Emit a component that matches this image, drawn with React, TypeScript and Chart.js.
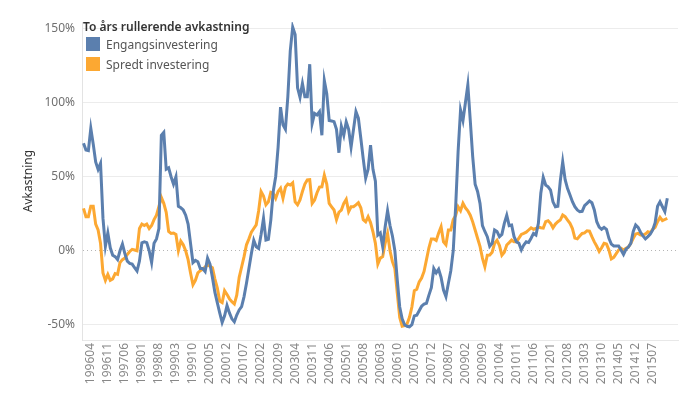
import React, { useEffect, useRef } from "react";
import { Chart, registerables } from "chart.js";

Chart.register(...registerables);

// Monthly categories, 199601 .. 201601
const firstYear = 1996;
const firstMonthNo = 1;
const monthCount = 241;
const months: string[] = [];
for (let k = 0; k < monthCount; k++) {
  const m = firstMonthNo - 1 + k;
  const y = firstYear + Math.floor(m / 12);
  const mm = (m % 12) + 1;
  months.push(`${y}${mm < 10 ? "0" : ""}${mm}`);
}

const tickLabels = [
  "199604", "199611", "199706", "199801", "199808", "199903", "199910", "200005",
  "200012", "200107", "200202", "200209", "200304", "200311", "200406", "200501",
  "200508", "200603", "200610", "200705", "200712", "200807", "200902", "200909",
  "201004", "201011", "201106", "201201", "201208", "201303", "201310", "201405",
  "201412", "201507",
];

const yTicks = [-50, 0, 50, 100, 150];

const engangs = [
  72.6, 68, 67.6, 82.7, 72, 60, 55, 59, 22, 3,
  12, 2, -3, -4, -6, 0, 4.5, -2, -7, -8.5,
  -9, -11.5, -13.7, -7, 5.4, 6, 5.5, 0, -8, 5,
  8, 15, 78, 80, 55, 56, 50, 45, 50, 30,
  29, 27.5, 24, 18, 5, -8, -6.5, -7.5, -12, -12,
  -14, -5, -9, -18, -28, -35, -42, -48.4, -44, -37,
  -42, -46, -48, -43.4, -40, -37.8, -31, -22, -12, -2,
  7, 2.7, 1.6, 11, 21.9, 7.2, 7.7, 20.7, 40, 50,
  70, 97, 85, 82, 104, 135, 151, 146, 110, 103.6,
  113, 104, 104, 126, 86, 92.8, 91.7, 93.9, 78, 115,
  106, 88, 87.6, 87.2, 82, 66.2, 84, 78, 87, 82,
  70, 82, 93.9, 89.5, 76, 62, 49, 55, 71.4, 55,
  47, 10.6, 12, 2.7, 16, 27, 17, 10, 0, -20,
  -38, -46, -50, -51, -51.4, -50, -44, -43.5, -40.5, -37.5,
  -36, -35.5, -30, -25, -12, -15, -12.5, -18, -26.6, -31,
  -22, -13.5, 0, 30, 67, 95, 88, 100, 112, 88,
  63.5, 45, 40, 32, 17, 13, 9.5, 3, 5, 14,
  13, 9.5, 11, 18.5, 24, 17, 17.4, 9.5, 6, 5,
  0.5, 3.9, 6, 5.5, 8.4, 11.7, 10.6, 18.5, 38.8, 49.6,
  44.4, 43.2, 41, 33, 29.7, 30, 47, 60.1, 48, 42,
  37.6, 33.1, 29.7, 27.5, 26.4, 26.6, 30.5, 32, 33.6, 32.4,
  27.5, 19.6, 16, 14.5, 15.8, 14.5, 8.4, 4.5, 3.2, 3.2,
  3.2, 0.5, -2.5, 1, 2.5, 5, 13, 17.4, 15.8, 12.5,
  10, 8, 9.5, 11.2, 14, 19, 30, 33.1, 29.7, 26.4,
  35.4,
];

const spredt = [
  28.6, 23, 23, 30, 30, 18, 14, 5, -15, -20,
  -16, -20, -19, -15.5, -16, -8, -6, -5, -2.5, -0.5,
  0.9, 0.5, 0, 15, 18, 17, 18, 15, 17, 21,
  24, 30, 36, 32, 26, 13, 11.7, 12, 11, 0,
  6.5, 4, 0, -6, -15, -23, -20, -15, -13.5, -12.5,
  -11, -9.7, -10.5, -11.5, -19, -25, -34, -35, -27, -29.5,
  -32.5, -34.5, -36, -30, -18, -11, -4, 4, 8, 12.5,
  15, 17.5, 27, 40, 37, 31, 33, 39.5, 38.8, 35.4,
  40, 42.2, 35.4, 43, 45, 44.4, 45.9, 33, 31, 34.3,
  40, 45, 47.8, 48, 32, 34.3, 39.2, 43, 43.2, 51,
  45, 32, 29.7, 27.5, 21, 26, 27.5, 32, 34.7, 26.4,
  29.7, 29.7, 31, 32.4, 29, 21, 19.5, 23, 19, 12.8,
  5, -9, -5, -4, 5, 11.7, 0, -7.4, -12, -28.8,
  -45, -50.9, -50.5, -49.5, -45, -38, -27, -26, -21, -18.5,
  -14, -6, 2, 8, 8, 7, 12, 16.2, 6, 4,
  14, 14, 21, 23.8, 29.7, 27, 32, 29, 27, 24,
  19.5, 14, 8.4, 3, -5, -10.8, -3, -2.9, -1, 5,
  7, 3.5, -3, -1, 3.9, 5.5, 7.2, 6, 6, 8.5,
  11, 11.7, 12.5, 14, 15.5, 14.5, 15, 16, 15.5, 15.3,
  19.6, 20.3, 18.5, 15.5, 18, 19.6, 20.7, 24.1, 23, 20.7,
  18.5, 15, 8.5, 8, 10, 11.7, 12, 13.5, 13.3, 9.5,
  6, 3, -0.5, 2, 5, 4.5, 0.5, -5.5, -4.5, -2,
  0.5, 1.6, 0.5, 1.6, 2.5, 5, 8.4, 11.3, 11.7, 10.6,
  10.6, 11.3, 12.8, 12.2, 14.5, 15.8, 19.6, 22.6, 20.3, 21.1,
  21.9,
];

const BLUE = "#5b7fae";
const ORANGE = "#fca832";
const FONT = "'Noto Sans', 'Open Sans', sans-serif";

export default function App() {
  const ref = useRef<HTMLCanvasElement | null>(null);

  useEffect(() => {
    if (!ref.current) return;
    const toPts = (arr: number[]) => arr.map((v, i) => ({ x: i, y: v }));
    const chart = new Chart(ref.current, {
      type: "line",
      data: {
        datasets: [
          {
            label: "Engangsinvestering",
            data: toPts(engangs),
            borderColor: BLUE,
            backgroundColor: BLUE,
            borderWidth: 3,
            pointRadius: 0,
            tension: 0,
          },
          {
            label: "Spredt investering",
            data: toPts(spredt),
            borderColor: ORANGE,
            backgroundColor: ORANGE,
            borderWidth: 3,
            pointRadius: 0,
            tension: 0,
          },
        ],
      },
      options: {
        responsive: false,
        animation: false,
        layout: { padding: { top: 22, right: 1, left: 0, bottom: 0 } },
        plugins: { legend: { display: false }, tooltip: { enabled: false } },
        scales: {
          x: {
            type: "linear",
            min: -0.62,
            max: 244.4,
            afterBuildTicks: (scale: any) => {
              scale.ticks = tickLabels.map((t) => ({ value: months.indexOf(t) }));
            },
            afterFit: (scale: any) => {
              scale.height = 59;
            },
            ticks: {
              autoSkip: false,
              minRotation: 90,
              maxRotation: 90,
              padding: 3,
              color: "#888",
              font: { family: FONT, size: 12 },
              callback: (v: any) => months[Math.round(Number(v))] ?? "",
            },
            grid: { display: true, drawOnChartArea: false, drawTicks: false },
            border: { display: true, color: "#e8e8e8", width: 1 },
          },
          y: {
            min: -60.3,
            max: 154.5,
            afterBuildTicks: (scale: any) => {
              scale.ticks = yTicks.map((v) => ({ value: v }));
            },
            afterFit: (scale: any) => {
              scale.width = 82;
            },
            ticks: {
              padding: 7,
              color: "#707070",
              font: { family: FONT, size: 12 },
              callback: (v: any) => `${v}%`,
            },
            grid: {
              drawTicks: false,
              color: (ctx: any) => (ctx.tick && ctx.tick.value === 0 ? "#b5b5b5" : "#ececec"),
              lineWidth: 1,
            },
            border: {
              display: true,
              color: "#e3e3e3",
              width: 1,
              dash: (ctx: any) => (ctx.tick && ctx.tick.value === 0 ? [1, 3] : []),
            },
            title: {
              display: true,
              text: "Avkastning",
              color: "#333",
              font: { family: FONT, size: 12 },
              padding: { top: 21, bottom: 0 },
            },
          },
        },
      },
    });
    return () => chart.destroy();
  }, []);

  const itemStyle: React.CSSProperties = {
    position: "absolute",
    left: 86,
    display: "flex",
    alignItems: "center",
    fontFamily: FONT,
    fontSize: 12,
    color: "#555",
    whiteSpace: "nowrap",
  };

  return (
    <div style={{ position: "fixed", left: 0, top: 0, width: 679, height: 399, background: "#fff" }}>
      <canvas ref={ref} width={679} height={399} style={{ display: "block" }} />
      <div
        style={{
          position: "absolute",
          left: 83,
          top: 18,
          fontFamily: FONT,
          fontSize: 12,
          fontWeight: 600,
          color: "#333",
          whiteSpace: "nowrap",
          lineHeight: "18px",
        }}
      >
        To års rullerende avkastning
      </div>
      <div style={{ ...itemStyle, top: 37, height: 14 }}>
        <span style={{ display: "inline-block", width: 14, height: 14, background: BLUE, marginRight: 6 }} />
        Engangsinvestering
      </div>
      <div style={{ ...itemStyle, top: 57, height: 14 }}>
        <span style={{ display: "inline-block", width: 14, height: 14, background: ORANGE, marginRight: 6 }} />
        Spredt investering
      </div>
    </div>
  );
}
